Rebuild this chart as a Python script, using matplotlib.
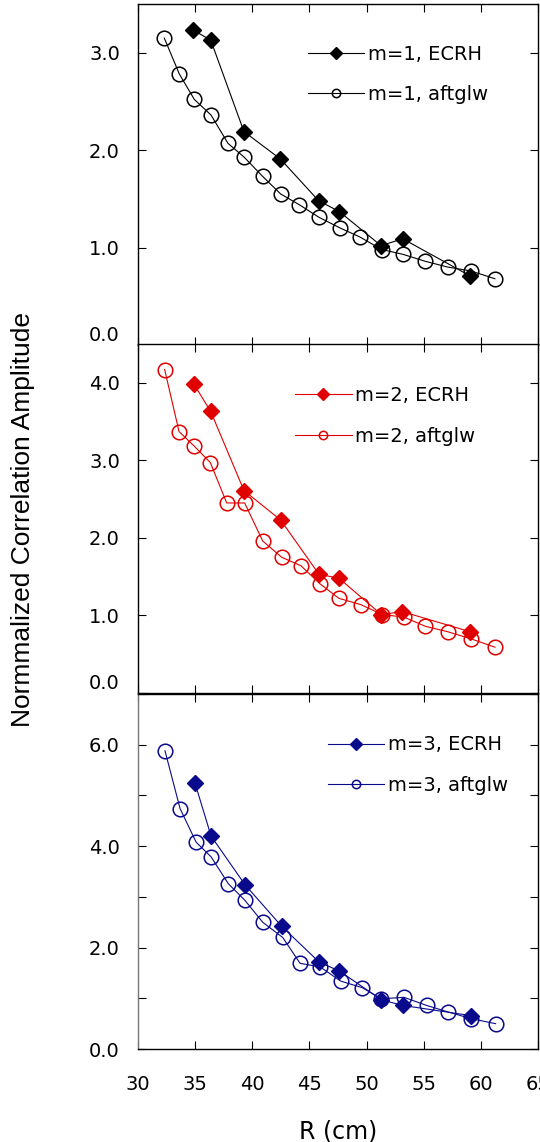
import matplotlib
matplotlib.use("Agg")
import matplotlib.pyplot as plt
from matplotlib.ticker import FormatStrFormatter, MultipleLocator

# m=1
r1_ecrh = [34.84, 36.36, 39.27, 42.45, 45.81, 47.61, 51.26, 53.16, 59.05]
a1_ecrh = [3.23, 3.13, 2.19, 1.91, 1.48, 1.37, 1.02, 1.09, 0.71]
r1_aft = [32.30, 33.62, 34.93, 36.39, 37.87, 39.27, 40.91, 42.48, 44.11,
          45.84, 47.70, 49.39, 51.33, 53.20, 55.11, 57.09, 59.13, 61.23]
a1_aft = [3.15, 2.78, 2.52, 2.36, 2.07, 1.93, 1.73, 1.55, 1.44,
          1.31, 1.20, 1.11, 0.98, 0.93, 0.86, 0.80, 0.76, 0.68]

# m=2
r2_ecrh = [34.90, 36.36, 39.27, 42.48, 45.84, 47.58, 51.30, 53.10, 59.05]
a2_ecrh = [3.98, 3.63, 2.61, 2.23, 1.53, 1.48, 1.01, 1.05, 0.79]
r2_aft = [32.33, 33.59, 34.87, 36.33, 37.76, 39.33, 40.91, 42.57, 44.26,
          45.90, 47.58, 49.48, 51.38, 53.24, 55.14, 57.09, 59.10, 61.23]
a2_aft = [4.17, 3.37, 3.19, 2.97, 2.45, 2.45, 1.96, 1.75, 1.64,
          1.41, 1.22, 1.14, 1.01, 0.98, 0.86, 0.79, 0.70, 0.59]

# m=3
r3_ecrh = [34.99, 36.39, 39.36, 42.57, 45.87, 47.61, 51.30, 53.16, 59.10]
a3_ecrh = [5.24, 4.20, 3.24, 2.42, 1.71, 1.54, 0.97, 0.86, 0.66]
r3_aft = [32.36, 33.68, 35.08, 36.39, 37.90, 39.36, 40.91, 42.66, 44.18,
          45.93, 47.73, 49.62, 51.30, 53.27, 55.25, 57.15, 59.13, 61.29]
a3_aft = [5.88, 4.74, 4.08, 3.79, 3.26, 2.93, 2.50, 2.20, 1.69,
          1.62, 1.34, 1.21, 0.99, 1.02, 0.86, 0.73, 0.60, 0.50]

x_ticks = [30, 35, 40, 45, 50, 55, 60, 65]

panels = [
    dict(m=1, color="black", r_e=r1_ecrh, a_e=a1_ecrh, r_a=r1_aft, a_a=a1_aft,
         ylim=3.5, yticks=[0, 1, 2, 3], minor=None,
         rect=[0.2556, 0.6979, 0.7407, 0.2986], leg=(0.425, 0.793)),
    dict(m=2, color="#e00000", r_e=r2_ecrh, a_e=a2_ecrh, r_a=r2_aft, a_a=a2_aft,
         ylim=4.5, yticks=[0, 1, 2, 3, 4], minor=None,
         rect=[0.2556, 0.3932, 0.7407, 0.3056], leg=(0.393, 0.794)),
    dict(m=3, color="#0a0a8c", r_e=r3_ecrh, a_e=a3_ecrh, r_a=r3_aft, a_a=a3_aft,
         ylim=7.0, yticks=[0, 2, 4, 6], minor=1,
         rect=[0.2556, 0.0814, 0.7407, 0.3109], leg=(0.475, 0.80)),
]

plt.rcParams['font.family'] = ['DejaVu Sans']
fig = plt.figure(figsize=(5.4, 11.42), dpi=100)

for i, p in enumerate(panels):
    ax = fig.add_axes(p["rect"])
    c = p["color"]
    ax.plot(p["r_e"], p["a_e"], color=c, lw=0.8, marker="D", ms=8,
            mfc=c, mec=c, label="m=%d, ECRH" % p["m"])
    ax.plot(p["r_a"], p["a_a"], color=c, lw=0.8, marker="o", ms=10.5,
            mfc="none", mec=c, mew=1.1, label="m=%d, aftglw" % p["m"])
    ax.set_xlim(30, 65)
    ax.set_ylim(0, p["ylim"])
    ax.set_xticks(x_ticks)
    ax.set_yticks(p["yticks"])
    if p["minor"]:
        ax.yaxis.set_minor_locator(MultipleLocator(p["minor"]))
    ax.yaxis.set_major_formatter(FormatStrFormatter("%.1f"))
    ax.tick_params(axis="both", which="both", direction="in", length=6,
                   width=0.8, top=True, right=True, labelsize=14)
    ax.tick_params(axis="y", pad=13)
    ax.tick_params(axis="x", pad=19)
    for s in ax.spines.values():
        s.set_linewidth(1.0)
    if i < 2:
        ax.tick_params(axis="x", labelbottom=False)
        ax.yaxis.get_major_ticks()[0].label1.set_verticalalignment("bottom")
    else:
        ax.spines["left"].set_color("#777777")
        ax.set_xlabel("R (cm)", fontsize=17, labelpad=18)

    leg = ax.legend(loc="center left", bbox_to_anchor=p["leg"], frameon=False,
                    fontsize=14, handlelength=2.9, handletextpad=0.2,
                    labelspacing=1.1, borderpad=0, borderaxespad=0)
    leg.legend_handles[0].set_markersize(6.5)
    leg.legend_handles[1].set_markersize(6)

fig.text(0.042, 0.545, "Normmalized Correlation Amplitude", rotation=90,
         ha="center", va="center", fontsize=19, family="Liberation Sans")

fig.savefig("out.png", dpi=100)
